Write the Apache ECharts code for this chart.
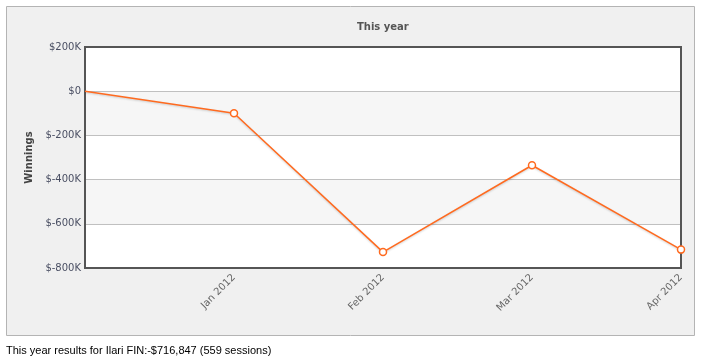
<!DOCTYPE html>
<html><head><meta charset="utf-8">
<script src="https://cdn.jsdelivr.net/npm/echarts@6/dist/echarts.min.js"></script>
<style>html,body{margin:0;padding:0;background:#fff}#c{width:704px;height:364px}</style>
</head><body><div id="c"></div>
<script>
var categories = ['', 'Jan 2012', 'Feb 2012', 'Mar 2012', 'Apr 2012'];
var winnings = [0, -100000, -728000, -335000, -716847];
var yMin = -800000, yMax = 200000, yStep = 200000;
var titleText = 'This year';
var yName = 'Winnings';
var footer = 'This year results for Ilari FIN:-$716,847 (559 sessions)';

var chart = echarts.init(document.getElementById('c'), null, {renderer: 'canvas'});
var data = winnings.map(function (v, i) {
  return i === 0 ? {value: v, symbol: 'none'} : v;
});
chart.setOption({
  animation: false,
  backgroundColor: '#fff',
  graphic: [
    {type: 'rect', z: -10, shape: {x: 6.5, y: 6.5, width: 688, height: 329},
     style: {fill: '#f0f0f0', stroke: '#b4b4b4', lineWidth: 1}},
    {type: 'text', left: 6, top: 345,
     style: {text: footer, font: '11px "Liberation Sans", Arial, sans-serif', fill: '#000'}}
  ],
  title: {
    text: titleText, left: 357, top: 22, padding: 0,
    textStyle: {fontFamily: 'DejaVu Sans', fontSize: 10, fontWeight: 'bold', color: '#555'}
  },
  grid: {left: 85, top: 47, width: 596, height: 221, show: true,
         borderColor: '#555', borderWidth: 2, backgroundColor: 'transparent', z: 3},
  xAxis: {
    type: 'category', data: categories, boundaryGap: false,
    axisLine: {show: false}, axisTick: {show: false},
    axisLabel: {rotate: 45, fontFamily: 'DejaVu Sans', fontSize: 10, color: '#666', margin: 8, interval: 0},
    splitLine: {show: false}
  },
  yAxis: {
    type: 'value', min: yMin, max: yMax, interval: yStep,
    name: yName, nameLocation: 'middle', nameGap: 49, nameRotate: 90,
    nameTextStyle: {fontFamily: 'DejaVu Sans', fontSize: 10, fontWeight: 'bold', color: '#444'},
    axisLine: {show: false}, axisTick: {show: false},
    axisLabel: {fontFamily: 'DejaVu Sans', fontSize: 10, color: '#4a4f63', margin: 4,
      formatter: function (v) { return '$' + (v / 1000) + (v === 0 ? '' : 'K'); }},
    splitLine: {lineStyle: {color: '#c0c0c0', width: 1}},
    splitArea: {show: true, areaStyle: {color: ['#ffffff', '#f6f6f6']}}
  },
  series: [{
    type: 'line', data: data,
    symbol: 'circle', symbolSize: 7, showAllSymbol: true,
    lineStyle: {color: '#ff6a1f', width: 1.5, shadowColor: 'rgba(0,0,0,0.18)', shadowBlur: 2, shadowOffsetY: 1},
    itemStyle: {color: '#fff', borderColor: '#ff6a1f', borderWidth: 1.5},
    z: 5
  }]
});
</script></body></html>
